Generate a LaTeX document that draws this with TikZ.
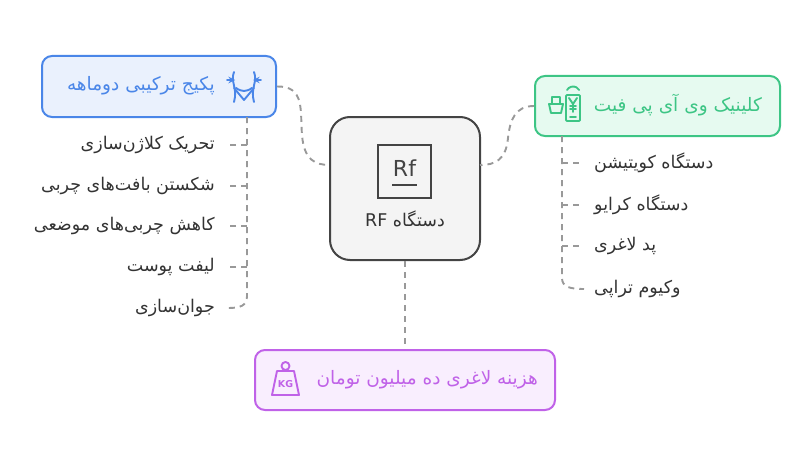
\documentclass[tikz,border=0pt]{standalone}
\usepackage{fontspec}
\setmainfont{DejaVu Sans}
\newfontfamily\arabicfont[Script=Arabic]{DejaVu Sans}
\TeXXeTstate=1
\definecolor{bluebd}{HTML}{4A86E8}\definecolor{bluefl}{HTML}{EAF1FD}
\definecolor{greenbd}{HTML}{3DC585}\definecolor{greenfl}{HTML}{E6FAF0}
\definecolor{purpbd}{HTML}{C062E8}\definecolor{purpfl}{HTML}{F9EEFE}
\definecolor{centbd}{HTML}{444444}\definecolor{centfl}{HTML}{F4F4F4}
\definecolor{txt}{HTML}{333333}\definecolor{lnk}{HTML}{999999}
\begin{document}
\begin{tikzpicture}[x=1pt,y=-1pt,
  box/.style={draw,line width=2pt,rounded corners=10pt,inner sep=0pt},
  conn/.style={draw=lnk,line width=1.9pt,dash pattern=on 6pt off 5pt},
  item/.style={font=\arabicfont\fontsize{17.5}{20}\selectfont,text=txt,inner sep=0pt},
  head/.style={font=\arabicfont\fontsize{18.5}{20}\selectfont,inner sep=0pt},
  ic/.style={line width=1.9pt,line cap=round,line join=round}]
\useasboundingbox (0,0) rectangle (810,468);
% boxes
\node[box,draw=bluebd,fill=bluefl,minimum width=234pt,minimum height=61pt] (L) at (159,86.5) {};
\node[box,draw=greenbd,fill=greenfl,minimum width=245pt,minimum height=60pt] (R) at (657.5,106) {};
\node[box,draw=centbd,fill=centfl,minimum width=150pt,minimum height=143pt,rounded corners=20pt] (C) at (405,188.5) {};
\node[box,draw=purpbd,fill=purpfl,minimum width=300pt,minimum height=60pt] (B) at (405,380) {};
% connectors
\coordinate (Lc) at (330,165); \coordinate (Rc) at (480,165);
\draw[conn] (L.east) .. controls (305,86) and (300,110) .. (302,135) .. controls (304,160) and (315,165) .. (Lc);
\draw[conn] (R.west) .. controls (515,106) and (510,120) .. (508,138) .. controls (506,160) and (495,165) .. (Rc);
\draw[conn] (C.south) -- (B.north);
% texts
\node[head,text=bluebd,anchor=east] (Lt) at (215,86) {\beginR پکیج ترکیبی دوماهه\endR};
\node[head,text=greenbd,anchor=east] (Rt) at (762,105) {\beginR کلینیک وی آی پی فیت\endR};
\node[head,text=purpbd,anchor=east] (Bt) at (538,380) {\beginR هزینه لاغری ده میلیون تومان\endR};
\node[item,anchor=center] (Ct) at (405,219) {\beginR دستگاه \beginL RF\endL\endR};
% left items
\coordinate (Ltop) at (247,117);
\foreach \y/\t [count=\i] in {145/تحریک کلاژن‌سازی,186/شکستن بافت‌های چربی,226/کاهش چربی‌های موضعی,267/لیفت پوست}{
  \node[item,anchor=east] (li\i) at (215,\y) {\beginR\t\endR};
  \draw[conn] (247,\y) -- (228,\y);
}
\node[item,anchor=east] (li5) at (215,308) {\beginR جوان‌سازی\endR};
\draw[conn] (Ltop) -- (247,296) .. controls (247,306) and (240,308) .. (228,308);
% right items
\coordinate (Rtop) at (562,136);
\foreach \y/\t [count=\i] in {163/دستگاه کویتیشن,205/دستگاه کرایو,246/پد لاغری}{
  \node[item,anchor=west] (ri\i) at (594,\y) {\beginR\t\endR};
  \draw[conn] (562,\y) -- (584,\y);
}
\node[item,anchor=west] (ri4) at (594,289) {\beginR وکیوم تراپی\endR};
\draw[conn] (Rtop) -- (562,278) .. controls (562,287) and (570,289) .. (584,289);
% Rf icon
\draw[centbd,line width=2pt] (378,145) rectangle (431,198);
\node[font=\fontsize{22}{24}\selectfont,text=centbd,inner sep=0pt] (rf) at (404.5,168) {Rf};
\draw[centbd,line width=2pt] (392,185) -- (417,185);
% KG icon
\begin{scope}[draw=purpbd,ic]
\draw (272,395) -- (299,395) -- (294,371) -- (277,371) -- cycle;
\draw (285.5,366) circle (4pt);
\end{scope}
\node[font=\bfseries\fontsize{9.5}{10}\selectfont,text=purpbd,inner sep=0pt] (kg) at (285.5,384) {KG};
% waist icon
\begin{scope}[draw=bluebd,ic]
\draw (234,72) .. controls (230,82) and (238,88) .. (234,102);
\draw (254,72) .. controls (258,82) and (250,88) .. (254,102);
\draw (234,88) -- (244,100) -- (254,88);
\draw (236,88) .. controls (242,92) and (246,92) .. (252,88);
\draw[->,>=stealth] (227,80) -- (235,80); \draw[->,>=stealth] (261,80) -- (253,80);
\end{scope}
% phone icon
\begin{scope}[draw=greenbd,ic]
\draw[rounded corners=1pt] (566,95) rectangle (580,121);
\draw (570,117) -- (576,117);
\draw (569,98) -- (573,104) -- (577,98); \draw (573,104)--(573,112); \draw (570,106)--(576,106); \draw (570,109)--(576,109);
\draw (567,90) arc (150:30:7pt);
\draw (549,104) -- (563,104) -- (561,113) -- (551,113) -- cycle;
\draw (552,104) -- (552,97) -- (560,97) -- (560,104);
\end{scope}
\end{tikzpicture}
\end{document}
